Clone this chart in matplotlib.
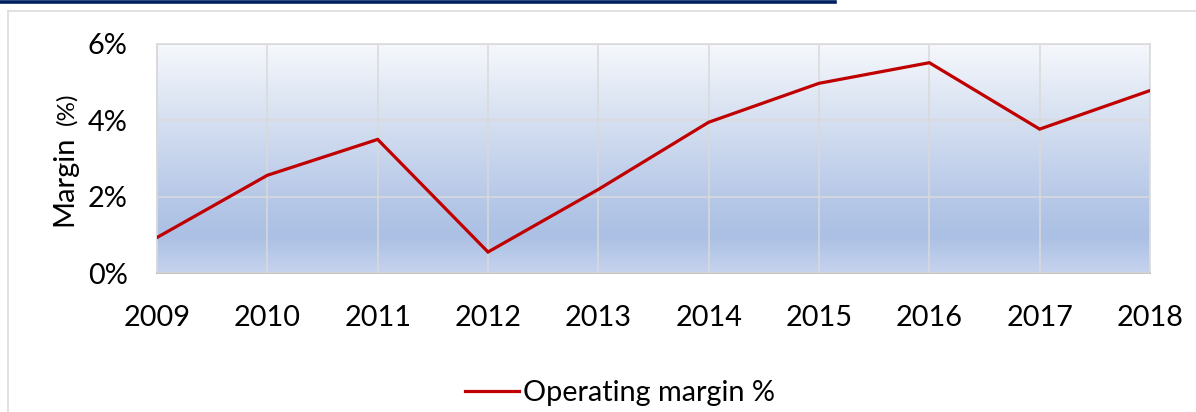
import numpy as np
import matplotlib.pyplot as plt
from matplotlib.colors import LinearSegmentedColormap
from matplotlib.lines import Line2D

years = [2009, 2010, 2011, 2012, 2013, 2014, 2015, 2016, 2017, 2018]
operating_margin = [0.93, 2.56, 3.50, 0.55, 2.19, 3.95, 4.97, 5.51, 3.77, 4.78]
y_ticks = [0, 2, 4, 6]
y_tick_labels = ["0%", "2%", "4%", "6%"]
series_name = "Operating margin %"

plt.rcParams["font.family"] = ["Lato", "DejaVu Sans"]

W, H = 1196, 412
fig = plt.figure(figsize=(W / 100, H / 100), dpi=100)
ax = fig.add_axes([157 / W, 1 - 273 / H, (1150 - 157) / W, (273 - 44) / H])

# plot area gradient, bottom -> top
grad = LinearSegmentedColormap.from_list(
    "bg",
    [
        (0.0, (198 / 255, 211 / 255, 238 / 255)),
        (0.16, (171 / 255, 192 / 255, 228 / 255)),
        (0.34, (184 / 255, 201 / 255, 232 / 255)),
        (0.67, (214 / 255, 224 / 255, 241 / 255)),
        (1.0, (246 / 255, 248 / 255, 252 / 255)),
    ],
)
ax.imshow(np.linspace(0, 1, 256).reshape(-1, 1), cmap=grad, origin="lower",
          extent=[0, 1, 0, 1], aspect="auto", transform=ax.transAxes, zorder=0)

ax.plot(years, operating_margin, color="#c00000", lw=2.3, zorder=3,
        solid_joinstyle="miter", label=series_name)

ax.set_xlim(years[0], years[-1])
ax.set_ylim(y_ticks[0], y_ticks[-1])
ax.set_xticks(years)
ax.set_xticklabels([str(y) for y in years])
ax.set_yticks(y_ticks)
ax.set_yticklabels(y_tick_labels)
ax.tick_params(length=0, labelsize=20.8, colors="black")
ax.tick_params(axis="x", pad=23)
ax.tick_params(axis="y", pad=21)
ax.grid(True, color="#d9d9d9", lw=1.1, zorder=1)
ax.set_axisbelow(False)
for s in ["top", "right"]:
    ax.spines[s].set_color("#d9d9d9")
    ax.spines[s].set_linewidth(1.1)
ax.spines["left"].set_color("#d0d0d0")
ax.spines["bottom"].set_color("#bfbfbf")
ax.spines["left"].set_linewidth(1.1)
ax.spines["bottom"].set_linewidth(1.3)

# y axis title, "(%)" is set smaller
fig.text(64 / W, 1 - 181 / H, "Margin", rotation=90, fontsize=21,
         ha="center", va="center")
fig.text(67 / W, 1 - 109 / H, "(%)", rotation=90, fontsize=17.5,
         ha="center", va="center")

ax.legend(loc="center", bbox_to_anchor=(620 / W, 1 - 393 / H),
          bbox_transform=fig.transFigure, frameon=False, fontsize=20.8,
          handlelength=1.85, handletextpad=0.15)

# chart frame and cut-off heading underline
fig.add_artist(Line2D([7.5 / W, 7.5 / W], [0, 1 - 11 / H], color="#d9d9d9", lw=1.1))
fig.add_artist(Line2D([7.5 / W, 1], [1 - 11 / H, 1 - 11 / H], color="#d9d9d9", lw=1.1))
fig.add_artist(Line2D([0, 835 / W], [1 - 1.5 / H, 1 - 1.5 / H], color="#002060", lw=2.6))

fig.savefig("out.png", dpi=100)
